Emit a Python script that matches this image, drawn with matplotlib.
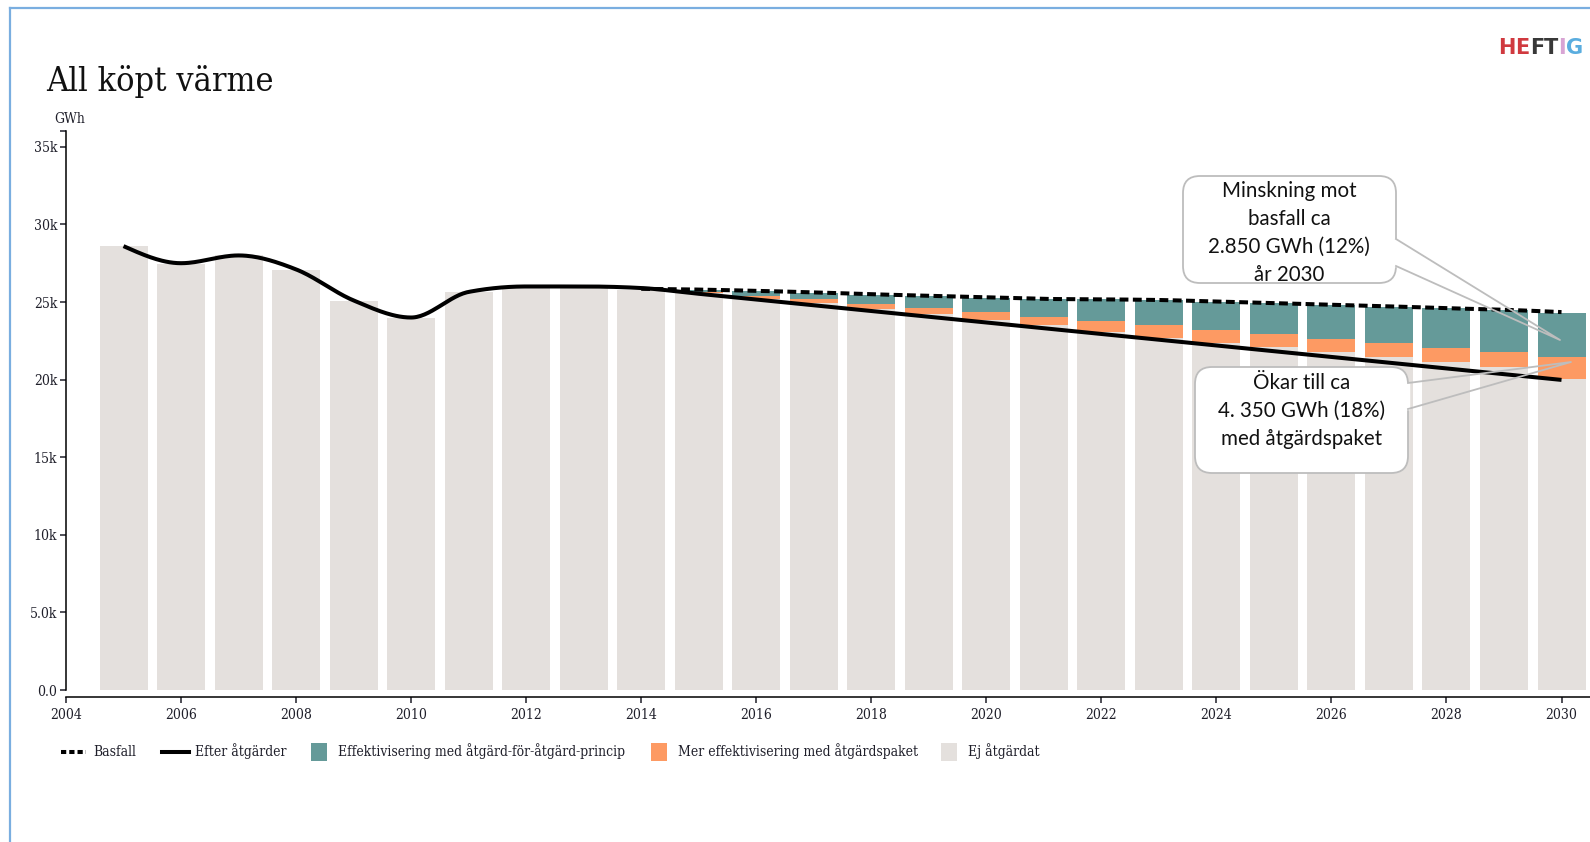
import matplotlib
matplotlib.use("Agg")
import matplotlib.pyplot as plt
import numpy as np
from matplotlib import font_manager as fm
from matplotlib.patches import FancyBboxPatch, Rectangle
from matplotlib.lines import Line2D
from matplotlib.offsetbox import TextArea, HPacker, AnnotationBbox

# ---------------- data (GWh) ----------------
years = list(range(2005, 2031))
ej_atgardat = [28600, 27450, 28050, 27050, 25070, 24000, 25630, 25870, 25870, 25760,
               25570, 25180, 24910, 24540, 24200, 23810, 23510, 23080, 22650, 22370,
               22110, 21790, 21470, 21150, 20820, 20010]
proj_years = list(range(2015, 2031))
mer_effektivisering = [50, 190, 260, 340, 430, 520, 540, 670, 860, 820,
                       800, 820, 880, 860, 930, 1460]
effektivisering = [150, 340, 430, 580, 730, 920, 1120, 1420, 1610, 1820,
                   2000, 2190, 2340, 2580, 2730, 2840]
efter_atgarder = [28600, 27500, 28000, 27100, 25100, 24000, 25650, 26000, 26000, 25900,
                  25530, 25160, 24790, 24420, 24050, 23680, 23310, 22940, 22570, 22200,
                  21830, 21460, 21090, 20720, 20350, 19980]
bas_years = list(range(2014, 2031))
basfall = [25850, 25800, 25720, 25620, 25500, 25400, 25300, 25200, 25170, 25130,
           25030, 24930, 24820, 24720, 24600, 24500, 24350]
xticks = list(range(2004, 2031, 2))
yticks = [0, 5000, 10000, 15000, 20000, 25000, 30000, 35000]
ytick_labels = ["0.0", "5.0k", "10k", "15k", "20k", "25k", "30k", "35k"]
legend_labels = ["Basfall", "Efter åtgärder", "Effektivisering med åtgärd-för-åtgärd-princip",
                 "Mer effektivisering med åtgärdspaket", "Ej åtgärdat"]
callout1 = "Minskning mot\nbasfall ca\n2.850 GWh (12%)\når 2030"
callout2 = "Ökar till ca\n4. 350 GWh (18%)\nmed åtgärdspaket"

C_GREY = "#e4e0dd"
C_ORANGE = "#fd9a63"
C_TEAL = "#659a99"
C_TXT = "#1f1f2a"

# ---------------- fonts ----------------
def font_available(name, stretch=None):
    for f in fm.fontManager.ttflist:
        if f.name == name and (stretch is None or f.stretch == stretch):
            return True
    return False

if font_available("DejaVu Serif", "condensed"):
    SERIF_C = dict(family="DejaVu Serif", stretch="condensed")
else:
    SERIF_C = dict(family="Liberation Serif")
CALLOUT_FONT = "Lato" if font_available("Lato") else "DejaVu Sans"
if font_available("Liberation Sans Narrow"):
    LOGO = dict(family="Liberation Sans Narrow", size=20.5)
else:
    LOGO = dict(family="DejaVu Sans", size=15)

# ---------------- figure ----------------
W, H = 1590, 842
fig = plt.figure(figsize=(W / 100, H / 100), dpi=100)

x0px, px_per_year = 66.0, 57.52
y0px, ytop_px, px_per_k = 690.0, 130.7, 15.52
xmax = 2004 + (W - x0px) / px_per_year
ymax = (y0px - ytop_px) / px_per_k * 1000

ax = fig.add_axes([x0px / W, 1 - y0px / H, 1 - x0px / W, (y0px - ytop_px) / H])
ax.set_xlim(2004, xmax)
ax.set_ylim(0, ymax)

bw = 0.835
ax.bar(years, ej_atgardat, width=bw, color=C_GREY, zorder=1, linewidth=0)
grey_proj = np.array(ej_atgardat[years.index(2015):])
orange = np.array(mer_effektivisering)
ax.bar(proj_years, orange, bottom=grey_proj, width=bw, color=C_ORANGE, zorder=1, linewidth=0)
ax.bar(proj_years, effektivisering, bottom=grey_proj + orange, width=bw, color=C_TEAL,
       zorder=1, linewidth=0)

# monotone cubic (like d3.curveMonotoneX)
def monotone(x, y, n=30):
    x = np.asarray(x, float); y = np.asarray(y, float)
    h = np.diff(x); d = np.diff(y) / h
    m = np.zeros_like(y)
    for k in range(1, len(y) - 1):
        s0, s1 = d[k - 1], d[k]
        p = (s0 * h[k] + s1 * h[k - 1]) / (h[k - 1] + h[k])
        m[k] = (np.sign(s0) + np.sign(s1)) * min(abs(s0), abs(s1), 0.5 * abs(p))
    m[0] = (3 * d[0] - m[1]) / 2 if len(y) > 2 else d[0]
    m[-1] = (3 * d[-1] - m[-2]) / 2 if len(y) > 2 else d[-1]
    xs, ys = [], []
    for k in range(len(y) - 1):
        t = np.linspace(0, 1, n, endpoint=False)
        h00 = 2 * t**3 - 3 * t**2 + 1; h10 = t**3 - 2 * t**2 + t
        h01 = -2 * t**3 + 3 * t**2; h11 = t**3 - t**2
        xs.append(x[k] + t * h[k])
        ys.append(h00 * y[k] + h10 * h[k] * m[k] + h01 * y[k + 1] + h11 * h[k] * m[k + 1])
    xs.append([x[-1]]); ys.append([y[-1]])
    return np.concatenate(xs), np.concatenate(ys)

bx, by = monotone(bas_years, basfall)
ax.plot(bx, by, color="black", lw=2.9, dashes=(2.2, 1.1), zorder=3, solid_capstyle="butt")
ex, ey = monotone(years, efter_atgarder)
ax.plot(ex, ey, color="black", lw=2.9, zorder=4, solid_capstyle="butt")

# axes styling
for s in ["top", "right"]:
    ax.spines[s].set_visible(False)
ax.spines["bottom"].set_position(("outward", 5.0))
ax.spines["left"].set_linewidth(1.1)
ax.spines["bottom"].set_linewidth(1.1)
ax.set_facecolor("none")
ax.set_xticks(xticks)
ax.set_xticklabels([str(t) for t in xticks])
ax.set_yticks(yticks)
ax.set_yticklabels(ytick_labels)
ax.set_yticks([ymax], minor=True)
ax.tick_params(axis="both", which="both", direction="out", length=4.3, width=1.1, color=C_TXT,
               labelcolor=C_TXT, labelsize=10)
ax.tick_params(axis="x", pad=4)
ax.tick_params(axis="y", pad=2)
for lab in ax.get_xticklabels() + ax.get_yticklabels():
    lab.set_fontfamily(SERIF_C["family"])
    lab.set_fontweight("medium")
    if "stretch" in SERIF_C:
        lab.set_fontstretch(SERIF_C["stretch"])

# ---------------- overlay in pixel coords ----------------
ov = fig.add_axes([0, 0, 1, 1], zorder=10)
ov.set_xlim(0, W); ov.set_ylim(H, 0); ov.axis("off")

# frame
ov.plot([9.5, 9.5], [8, H], color="#7aaee0", lw=1.6)
ov.plot([9.5, W], [8, 8], color="#7aaee0", lw=1.6)

# title
ov.text(45.7, 90.7, "All köpt värme", fontsize=24.5, color="#111111", va="baseline", ha="left",
        **SERIF_C)
ov.text(70, 118.6, "GWh", fontsize=10, color=C_TXT, ha="center", va="center", **SERIF_C)

# logo
letters = [("H", "#d0393f"), ("E", "#d0393f"), ("F", "#383838"), ("T", "#383838"),
           ("I", "#d8a4d4"), ("G", "#5aaddf")]
areas = [TextArea(ch, textprops=dict(color=c, fontweight="bold", fontfamily=LOGO["family"],
                                     fontsize=LOGO["size"])) for ch, c in letters]
pack = HPacker(children=areas, sep=0, pad=0, align="baseline")
ab = AnnotationBbox(pack, (1583, 48.5), xycoords="data", box_alignment=(1.0, 0.5),
                    frameon=False, pad=0)
ov.add_artist(ab)

# callouts
def callout(x0, y0, x1, y1, base_a, base_b, tip, text, tx, ty):
    box = FancyBboxPatch((x0, y0), x1 - x0, y1 - y0, boxstyle="round,pad=0,rounding_size=17",
                         facecolor="white", edgecolor="#bdbdbd", lw=1.3, zorder=11)
    ov.add_patch(box)
    ov.plot([base_a[0], base_b[0]], [base_a[1] + 1, base_b[1] - 1], color="white", lw=2.5, zorder=12)
    ov.plot([base_a[0], tip[0], base_b[0]], [base_a[1], tip[1], base_b[1]], color="#bdbdbd",
            lw=1.3, zorder=12)
    ov.text(tx, ty, text, ha="center", va="center", fontsize=14.8, family=CALLOUT_FONT,
            color="#111111", linespacing=1.5, zorder=13)

callout(1183, 176, 1396, 283, (1396, 239), (1396, 266), (1560, 340), callout1, 1289, 233)
callout(1195, 367, 1408, 473, (1408, 383), (1408, 409), (1571, 362), callout2, 1302, 411)

# legend
ly = 751.5
lfont = dict(fontsize=10, color=C_TXT, va="center", ha="left", fontweight="medium", **SERIF_C)
ov.add_line(Line2D([61, 86], [ly, ly], color="black", lw=2.9, dashes=(1.3, 0.75)))
ov.text(93, ly, legend_labels[0], **lfont)
ov.add_line(Line2D([162, 189], [ly, ly], color="black", lw=2.9))
ov.text(195, ly, legend_labels[1], **lfont)
for (xs, col, lab) in [(311, C_TEAL, legend_labels[2]), (651, C_ORANGE, legend_labels[3]),
                       (941, C_GREY, legend_labels[4])]:
    ov.add_patch(Rectangle((xs, ly - 9), 15.5, 18, facecolor=col, edgecolor="none"))
    ov.text(xs + 26.5, ly, lab, **lfont)

fig.savefig("out.png", dpi=100)
